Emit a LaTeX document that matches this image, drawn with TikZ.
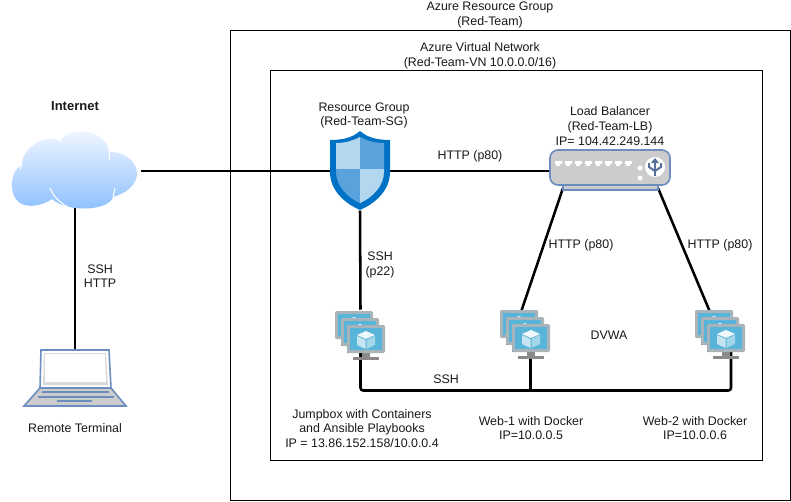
\documentclass[tikz,border=0pt]{standalone}
\usepackage{fontspec}
\setmainfont{Liberation Sans}
\usetikzlibrary{calc}
\definecolor{lbblue}{HTML}{6C8EBF}
\definecolor{lbgrey}{HTML}{CCCCCC}
\definecolor{vmscreen}{HTML}{59B4D9}
\definecolor{vmbezel}{HTML}{A8B3BA}
\definecolor{vmstand}{HTML}{8A8A8A}
\definecolor{shieldouter}{HTML}{0072C6}
\definecolor{shieldlight}{HTML}{B4D7F0}
\definecolor{shieldmid}{HTML}{59A2DB}
\definecolor{cloudtop}{HTML}{F5FAFF}
\definecolor{cloudbottom}{HTML}{8CBFFF}
\newcommand{\vmmonitor}[2]{%
\begin{scope}[shift={(#1,#2)}]
\fill[vmstand] (15,26) rectangle (23,32);
\fill[vmstand] (6,32) rectangle (32,35);
\fill[vmbezel,rounded corners=1pt] (0,0) rectangle (38,28);
\fill[vmscreen] (3,3) rectangle (35,25);
\fill[white!90!vmscreen] (19,6) -- (28,10) -- (19,14) -- (10,10) -- cycle;
\fill[white!65!vmscreen] (10,11) -- (18.5,15) -- (18.5,24) -- (10,20) -- cycle;
\fill[white!45!vmscreen] (28,11) -- (19.5,15) -- (19.5,24) -- (28,20) -- cycle;
\end{scope}}
\tikzset{
  x=0.75pt,y=-0.75pt,
  box/.style={draw=black,line width=0.75pt},
  wire/.style={draw=black,line width=1.9pt},
  txt/.style={align=center,font=\fontsize{9.3}{11}\selectfont,inner sep=0pt,text=black!90},
  bold/.style={txt,font=\fontsize{9.75}{11}\selectfont\bfseries},
  icon/.style={inner sep=0pt,minimum width=#1},
  vmstack/.pic={
    \vmmonitor{0}{0}
    \vmmonitor{6}{7}
    \vmmonitor{12}{14}
  }
}
\begin{document}
\begin{tikzpicture}
\useasboundingbox (0,0) rectangle (791,501);
\fill[white] (0,0) rectangle (791,501);
% Resource group and network boxes
\draw[box] (230.5,30.5) rectangle (790.5,500.5);
\draw[box] (270.5,70.5) rectangle (762.5,460.5);
\node[txt] (rgtitle) at (490,15) {Azure Resource Group\\(Red-Team)};
\node[txt] (vntitle) at (480,55.5) {Azure Virtual Network\\(Red-Team-VN 10.0.0.0/16)};

% Anchors for the icons
\node[icon=99pt,minimum height=55pt] (cloud) at (75,171) {};
\node[icon=45pt,minimum height=59pt] (shield) at (360,171) {};
\node[icon=90pt,minimum height=30pt] (lb) at (610,171) {};
\node[icon=28pt,minimum height=39pt] (jump) at (360.5,336) {};
\node[icon=28pt,minimum height=39pt] (webone) at (530.5,336) {};
\node[icon=28pt,minimum height=39pt] (webtwo) at (731,336) {};
\node[icon=60pt,minimum height=40pt] (laptop) at (75,377) {};
\coordinate (lbleft) at (563,188);
\coordinate (lbright) at (658,188);
\coordinate (weboneup) at (521,312);
\coordinate (webtwoup) at (710,312);
\coordinate (busleft) at (360.5,390.5);
\coordinate (busmid) at (530.5,390.5);
\coordinate (busright) at (731,390.5);

% Connectors
\draw[wire] (cloud.east) -- (shield.west);
\draw[wire] (shield.east) -- (lb.west);
\draw[wire] (shield.south) -- (jump.north);
\draw[wire] (lbleft) -- (weboneup);
\draw[wire] (lbright) -- (webtwoup);
\draw[wire] (cloud.south) -- (laptop.north);
\draw[wire,rounded corners=2pt] (jump.center) -- (busleft) -- (busright) -- (webtwo.center);
\draw[wire] (webone.center) -- (busmid);

% Cloud
\shade[top color=cloudtop,bottom color=cloudbottom]
  (20,203) .. controls (8,195) and (10,170) .. (22,165)
  .. controls (22,145) and (50,133) .. (60,141)
  .. controls (70,126) and (105,128) .. (110,152)
  .. controls (138,152) and (152,185) .. (113,197)
  .. controls (108,212) and (65,212) .. (52,199)
  .. controls (42,206) and (28,208) .. (20,203) -- cycle;
\draw[white,line width=0.8pt] (50,188) .. controls (54,198) and (62,204) .. (68,207);
\draw[white,line width=0.8pt] (108,145) .. controls (109,150) and (110,155) .. (109,160);
\draw[white,line width=0.8pt] (113,197) -- (115,188);
\draw[white,line width=0.8pt] (20,170) -- (22,164);
\draw[white,line width=0.8pt] (60,141) -- (57,139);

% Shield
\fill[shieldouter] (360,131) .. controls (368,138) and (378,140) .. (390,140)
  -- (390,172) .. controls (390,190) and (376,203) .. (360,210)
  .. controls (344,203) and (330,190) .. (330,172) -- (330,140)
  .. controls (342,140) and (352,138) .. (360,131) -- cycle;
\fill[shieldlight] (360,137) .. controls (352,141) and (345,143) .. (336,143) -- (336,169) -- (360,169) -- cycle;
\fill[shieldmid] (360,137) .. controls (368,141) and (375,143) .. (384,143) -- (384,169) -- (360,169) -- cycle;
\fill[shieldmid] (336,169) -- (336,172) .. controls (336,186) and (348,198) .. (360,203) -- (360,169) -- cycle;
\fill[shieldlight] (384,169) -- (384,172) .. controls (384,186) and (372,198) .. (360,203) -- (360,169) -- cycle;

% Load balancer
\fill[lbgrey,draw=lbblue,line width=1pt] (563,185) rectangle (658,190);
\draw[fill=lbgrey,draw=lbblue,line width=1.2pt,rounded corners=6pt] (550,150) rectangle (670,185);
\foreach \px in {558,568,578,588,598,608,618,628}{
  \fill[white] (\px-3.5,161) rectangle (\px+3.5,164);
  \fill[white] (\px-2,164) rectangle (\px+2,166);
}
\fill[white] (640,168) circle (2.5);
\fill[white] (640,178) circle (2.5);
\fill[white] (655,167) circle (10);
\draw[lbblue!80!black,line width=1.5pt] (655,161) -- (655,176);
\draw[lbblue!80!black,line width=1.5pt] (649,163) -- (649,167) -- (655,171) -- (661,167) -- (661,163);
\fill[lbblue!80!black] (655,158) -- (651,163) -- (659,163) -- cycle;

% VM stacks
\pic at (335,311) {vmstack};
\pic at (500,310) {vmstack};
\pic at (695,310) {vmstack};

% Laptop
\draw[fill=white,draw=lbblue,line width=1.2pt] (41,350) -- (109,350) -- (111,388) -- (40,388) -- cycle;
\fill[black!15] (44,353) -- (106,353) -- (108,385) -- (43,385) -- cycle;
\fill[white] (45,354) -- (105,354) -- (106,382) -- (45,382) -- cycle;
\draw[fill=lbgrey,draw=lbblue,line width=1.2pt] (40,388) -- (111,388) -- (126,406) -- (24,406) -- cycle;
\draw[lbblue,line width=1.2pt] (42,392) -- (109,392);
\draw[lbblue,line width=1.2pt] (38,397) -- (114,397);
\draw[lbblue,line width=1.2pt] (57,401) -- (92,401);

% Labels
\node[bold] (internet) at (75,106) {Internet};
\node[txt] (sshhttp) at (100,276) {SSH\\HTTP};
\node[txt] (remote) at (75,428) {Remote Terminal};
\node[txt] (sgtitle) at (364,115.5) {Resource Group\\(Red-Team-SG)};
\node[txt] (lbtitle) at (610,126) {Load Balancer\\(Red-Team-LB)\\IP= 104.42.249.144};
\node[txt] (sglb) at (470,156) {HTTP (p80)};
\node[txt] (sshjump) at (380,265) {SSH\\(p22)};
\node[txt] (lbwebone) at (581,245) {HTTP (p80)};
\node[txt] (lbwebtwo) at (720,245) {HTTP (p80)};
\node[txt] (dvwa) at (609,335) {DVWA};
\node[txt] (sshbus) at (446,379) {SSH};
\node[txt] (jumptitle) at (362,428.5) {Jumpbox with Containers\\and Ansible Playbooks\\IP = 13.86.152.158/10.0.0.4};
\node[txt] (webonetitle) at (531,428) {Web-1 with Docker\\IP=10.0.0.5};
\node[txt] (webtwotitle) at (695,428) {Web-2 with Docker\\IP=10.0.0.6};
\end{tikzpicture}
\end{document}
